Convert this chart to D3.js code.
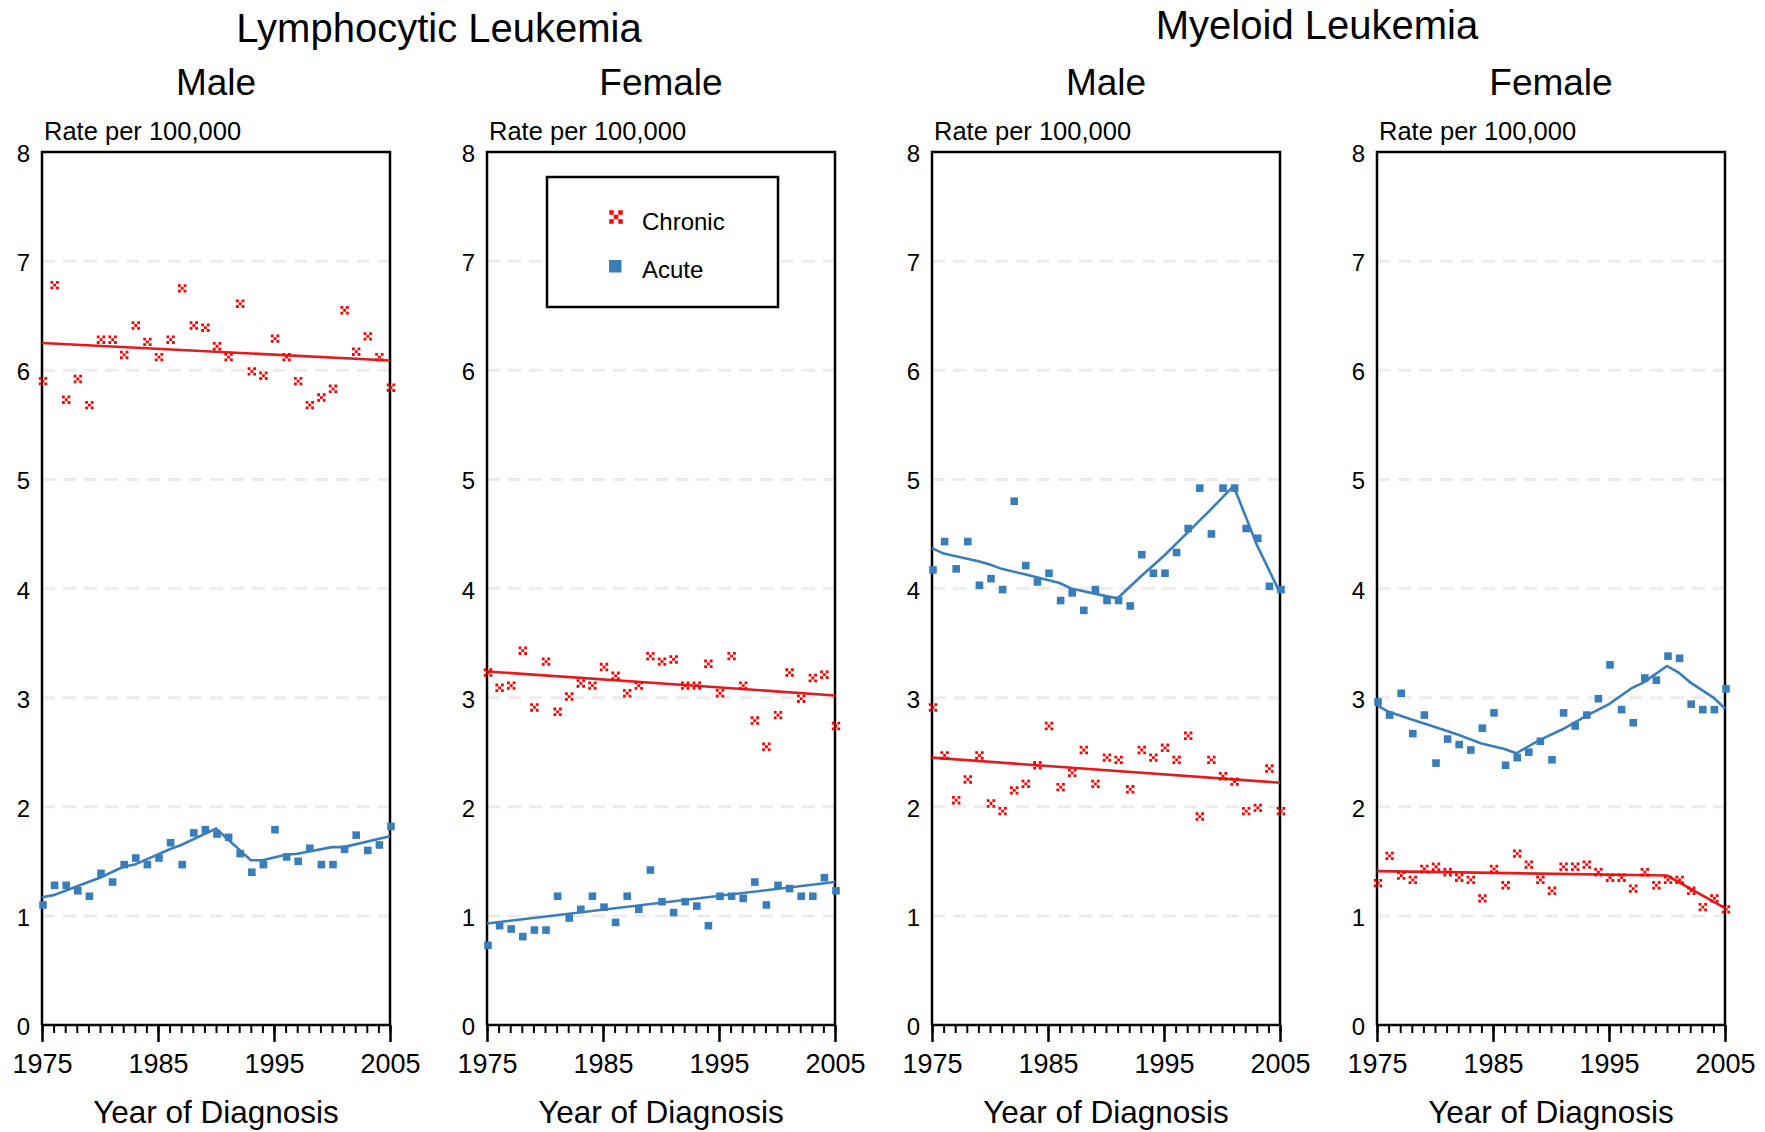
<!DOCTYPE html>
<html>
<head>
<meta charset="utf-8">
<script src="https://cdn.jsdelivr.net/npm/d3@7"></script>
<style>
  body { margin: 0; background: #fff; }
  svg { display: block; font-family: "Liberation Sans", Arial, sans-serif; }
</style>
</head>
<body>
<svg width="1765" height="1132"></svg>
<script>
// years of diagnosis (one point per year)
const years = [1975, 1976, 1977, 1978, 1979, 1980, 1981, 1982, 1983, 1984, 1985, 1986, 1987, 1988, 1989, 1990,
  1991, 1992, 1993, 1994, 1995, 1996, 1997, 1998, 1999, 2000, 2001, 2002, 2003, 2004, 2005];
const yearTicks = [1975, 1985, 1995, 2005];
const rateTicks = [0, 1, 2, 3, 4, 5, 6, 7, 8];
const gridTicks = [1, 2, 3, 4, 5, 6, 7];

// observed rates per 100,000
const lymMaleChronic = [5.90, 6.78, 5.73, 5.92, 5.68, 6.28, 6.28, 6.14, 6.41, 6.26, 6.12, 6.28, 6.75, 6.41, 6.39, 6.22,
  6.12, 6.61, 5.99, 5.95, 6.29, 6.12, 5.90, 5.68, 5.75, 5.83, 6.55, 6.17, 6.31, 6.12, 5.84];
const lymMaleAcute = [1.10, 1.28, 1.28, 1.23, 1.18, 1.39, 1.31, 1.47, 1.53, 1.47, 1.53, 1.67, 1.47, 1.76, 1.79, 1.75,
  1.72, 1.57, 1.40, 1.47, 1.79, 1.54, 1.50, 1.62, 1.47, 1.47, 1.61, 1.74, 1.60, 1.65, 1.82];
const lymFemaleChronic = [3.23, 3.09, 3.11, 3.43, 2.91, 3.33, 2.87, 3.01, 3.13, 3.11, 3.28, 3.20, 3.04, 3.11, 3.38, 3.33,
  3.35, 3.11, 3.11, 3.31, 3.04, 3.38, 3.11, 2.79, 2.55, 2.84, 3.23, 2.99, 3.18, 3.21, 2.74];
const lymFemaleAcute = [0.73, 0.91, 0.88, 0.81, 0.87, 0.87, 1.18, 0.98, 1.06, 1.18, 1.08, 0.94, 1.18, 1.06, 1.42, 1.13,
  1.03, 1.13, 1.09, 0.91, 1.18, 1.18, 1.16, 1.31, 1.10, 1.28, 1.25, 1.18, 1.18, 1.35, 1.23];
const myeMaleChronic = [2.91, 2.47, 2.06, 2.25, 2.47, 2.03, 1.96, 2.15, 2.21, 2.38, 2.74, 2.18, 2.31, 2.52, 2.21, 2.45,
  2.43, 2.16, 2.52, 2.45, 2.54, 2.43, 2.65, 1.91, 2.43, 2.28, 2.23, 1.96, 1.99, 2.35, 1.96];
const myeMaleAcute = [4.17, 4.43, 4.18, 4.43, 4.03, 4.09, 3.99, 4.80, 4.21, 4.06, 4.14, 3.89, 3.96, 3.80, 3.99, 3.89,
  3.89, 3.84, 4.31, 4.14, 4.14, 4.33, 4.55, 4.92, 4.50, 4.92, 4.92, 4.55, 4.46, 4.02, 3.99];
const myeFemaleChronic = [1.30, 1.55, 1.37, 1.33, 1.43, 1.45, 1.40, 1.35, 1.33, 1.16, 1.43, 1.28, 1.57, 1.47, 1.33, 1.23,
  1.45, 1.45, 1.47, 1.40, 1.35, 1.35, 1.25, 1.40, 1.28, 1.33, 1.33, 1.23, 1.08, 1.16, 1.06];
const myeFemaleAcute = [2.96, 2.84, 3.04, 2.67, 2.84, 2.40, 2.62, 2.57, 2.52, 2.72, 2.86, 2.38, 2.45, 2.50, 2.60, 2.43,
  2.86, 2.74, 2.84, 2.99, 3.30, 2.89, 2.77, 3.18, 3.16, 3.38, 3.36, 2.94, 2.89, 2.89, 3.08];

// fitted trend lines, [year, rate]
const lymMaleChronicFit = [[1975, 6.25], [2005, 6.09]];
const lymMaleAcuteFit = [[1975, 1.17], [1976, 1.19], [1979, 1.31], [1980, 1.35], [1982, 1.45], [1983, 1.47], [1986, 1.61],
  [1987, 1.65], [1990, 1.80], [1993, 1.51], [1994, 1.51], [1996, 1.56], [1997, 1.57], [2000, 1.63], [2001, 1.63], [2005, 1.73]];
const lymFemaleChronicFit = [[1975, 3.24], [2005, 3.02]];
const lymFemaleAcuteFit = [[1975, 0.93], [2005, 1.31]];
const myeMaleChronicFit = [[1975, 2.45], [2005, 2.22]];
const myeMaleAcuteFit = [[1975, 4.37], [1976, 4.32], [1979, 4.25], [1980, 4.22], [1981, 4.18], [1983, 4.13], [1986, 4.05],
  [1987, 4.00], [1990, 3.93], [1991, 3.91], [1993, 4.11], [1995, 4.30], [1997, 4.51], [1999, 4.72], [2001, 4.94],
  [2003, 4.40], [2005, 3.96]];
const myeFemaleChronicFit = [[1975, 1.41], [2000, 1.37], [2005, 1.07]];
const myeFemaleAcuteFit = [[1975, 2.93], [1976, 2.87], [1978, 2.80], [1980, 2.73], [1982, 2.66], [1984, 2.58], [1986, 2.53],
  [1987, 2.49], [1989, 2.61], [1991, 2.71], [1993, 2.83], [1995, 2.94], [1997, 3.09], [1998, 3.14], [2000, 3.29],
  [2001, 3.23], [2002, 3.14], [2004, 3.00], [2005, 2.90]];

const panels = [
  { sex: 'Male', chronic: lymMaleChronic, acute: lymMaleAcute, chronicFit: lymMaleChronicFit, acuteFit: lymMaleAcuteFit },
  { sex: 'Female', chronic: lymFemaleChronic, acute: lymFemaleAcute, chronicFit: lymFemaleChronicFit, acuteFit: lymFemaleAcuteFit },
  { sex: 'Male', chronic: myeMaleChronic, acute: myeMaleAcute, chronicFit: myeMaleChronicFit, acuteFit: myeMaleAcuteFit },
  { sex: 'Female', chronic: myeFemaleChronic, acute: myeFemaleAcute, chronicFit: myeFemaleChronicFit, acuteFit: myeFemaleAcuteFit }
];

const red = '#ff0000', redLine = '#e41a1c', blue = '#3a7dbb';

// layout
const panelLeft = [42, 487, 932, 1377];
const inner = { w: 348, top: 152, bottom: 1025 };

const x = d3.scaleLinear().domain([1975, 2005]).range([0, inner.w]);
const y = d3.scaleLinear().domain([0, 8]).range([inner.bottom, inner.top]);

// chronic marker: 4 corner cells + centre cell
function checker(c) {
  let p = '';
  [[-1, -1], [1, -1], [0, 0], [-1, 1], [1, 1]].forEach(function (o) {
    const x0 = o[0] * c - c / 2, y0 = o[1] * c - c / 2;
    p += 'M' + x0 + ',' + y0 + 'h' + c + 'v' + c + 'h' + (-c) + 'Z';
  });
  return p;
}

const svg = d3.select('svg');
svg.append('rect').attr('width', 1765).attr('height', 1132).attr('fill', '#fff');

// group titles
svg.append('text').attr('x', 439).attr('y', 42).attr('text-anchor', 'middle')
  .style('font-size', '40px').text('Lymphocytic Leukemia');
svg.append('text').attr('x', 1317).attr('y', 39).attr('text-anchor', 'middle')
  .style('font-size', '40px').text('Myeloid Leukemia');

panels.forEach(function (p, i) {
  const g = svg.append('g').attr('transform', 'translate(' + panelLeft[i] + ',0)');

  // sex title
  g.append('text').attr('x', inner.w / 2).attr('y', 95).attr('text-anchor', 'middle')
    .style('font-size', '37px').text(p.sex);
  g.append('text').attr('x', 2).attr('y', 140).style('font-size', '25.5px').text('Rate per 100,000');

  // dashed gridlines
  g.selectAll('.grid').data(gridTicks).enter().append('line')
    .attr('x1', 0).attr('x2', inner.w)
    .attr('y1', function (d) { return y(d); }).attr('y2', function (d) { return y(d); })
    .attr('stroke', '#ececec').attr('stroke-width', 3).attr('stroke-dasharray', '13,8');

  // frame
  g.append('path')
    .attr('d', 'M0,' + inner.bottom + 'V' + inner.top + 'H' + inner.w + 'V' + inner.bottom)
    .attr('fill', 'none').attr('stroke', '#000').attr('stroke-width', 2.5);

  // y axis labels
  const ya = g.append('g').style('font-size', '24px')
    .call(d3.axisLeft(y).tickValues(rateTicks).tickSize(0).tickPadding(12));
  ya.select('.domain').remove();
  ya.selectAll('text').attr('fill', '#000').attr('dy', '0.4em')
    .style('font-family', 'Liberation Sans, Arial, sans-serif');

  // x axis: minor ticks every year, major ticks with labels
  const xMinor = g.append('g').attr('transform', 'translate(0,' + inner.bottom + ')')
    .call(d3.axisBottom(x).tickValues(years).tickSize(8).tickFormat(''));
  xMinor.select('.domain').attr('stroke-width', 2.5).attr('d', 'M0,0H' + inner.w);
  xMinor.selectAll('line').attr('stroke-width', 2);
  const xMajor = g.append('g').attr('transform', 'translate(0,' + inner.bottom + ')')
    .call(d3.axisBottom(x).tickValues(yearTicks).tickSize(17).tickPadding(12).tickFormat(d3.format('d')));
  xMajor.select('.domain').remove();
  xMajor.selectAll('line').attr('stroke-width', 2.5);
  xMajor.selectAll('text').attr('fill', '#000').style('font-size', '27px')
    .style('font-family', 'Liberation Sans, Arial, sans-serif');

  g.append('text').attr('x', inner.w / 2).attr('y', 1123).attr('text-anchor', 'middle')
    .style('font-size', '31.5px').text('Year of Diagnosis');

  // trend lines
  const line = d3.line().x(function (d) { return x(d[0]); }).y(function (d) { return y(d[1]); });
  g.append('path').datum(p.chronicFit).attr('d', line)
    .attr('fill', 'none').attr('stroke', redLine).attr('stroke-width', 2.6);
  g.append('path').datum(p.acuteFit).attr('d', line)
    .attr('fill', 'none').attr('stroke', blue).attr('stroke-width', 2.6);

  // observed points
  g.selectAll('.chronic').data(p.chronic).enter().append('path')
    .attr('d', checker(2.8)).attr('fill', red)
    .attr('transform', function (d, j) { return 'translate(' + (x(years[j]) + 1) + ',' + y(d) + ')'; });
  g.selectAll('.acute').data(p.acute).enter().append('rect')
    .attr('width', 7.6).attr('height', 7.6).attr('fill', blue)
    .attr('x', function (d, j) { return x(years[j]) + 1 - 3.8; })
    .attr('y', function (d) { return y(d) - 3.8; });

  // legend in the lymphocytic female panel
  if (i === 1) {
    const lg = g.append('g').attr('transform', 'translate(60,177)');
    lg.append('rect').attr('width', 231).attr('height', 130)
      .attr('fill', '#fff').attr('stroke', '#000').attr('stroke-width', 2.5);
    lg.append('path').attr('d', checker(4.5)).attr('fill', red).attr('transform', 'translate(69,40)');
    lg.append('rect').attr('x', 62).attr('y', 83).attr('width', 12.5).attr('height', 12.5).attr('fill', blue);
    lg.append('text').attr('x', 95).attr('y', 53).style('font-size', '24px').text('Chronic');
    lg.append('text').attr('x', 95).attr('y', 101).style('font-size', '24px').text('Acute');
  }
});
</script>
</body>
</html>
